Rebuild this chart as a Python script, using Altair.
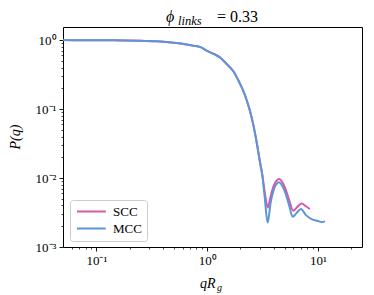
import altair as alt
import pandas as pd

# shared low-q part (qRg, P)
q_common = [0.05, 0.08, 0.12, 0.18, 0.25, 0.35, 0.45, 0.6, 0.75, 0.87, 1.0, 1.15, 1.31, 1.5,
            1.73, 1.95, 2.12, 2.3, 2.44, 2.6, 2.8, 3.0, 3.15]
p_common = [1.0, 0.998, 0.995, 0.989, 0.979, 0.960, 0.935, 0.887, 0.83, 0.79, 0.70, 0.63, 0.56, 0.45,
            0.35, 0.245, 0.183, 0.128, 0.093, 0.061, 0.033, 0.017, 0.011]

q_scc = [3.3, 3.52, 3.75, 4.0, 4.48, 5.0, 5.5, 5.99, 6.5, 7.13, 7.8, 8.47]
p_scc = [0.0065, 0.00375, 0.0055, 0.0078, 0.0097, 0.0075, 0.0048, 0.00335, 0.0038, 0.00428, 0.0039, 0.00355]

q_mcc = [3.3, 3.52, 3.75, 4.0, 4.45, 5.0, 5.5, 5.91, 6.4, 7.02, 7.8, 8.77, 10.0, 10.8, 11.6]
p_mcc = [0.0055, 0.00226, 0.0045, 0.0068, 0.00866, 0.0065, 0.0040, 0.00274, 0.0031, 0.00355, 0.0029,
         0.00254, 0.00238, 0.0023, 0.00235]

series = ["SCC", "MCC"]
colors = ["#d957a8", "#5a96d8"]

x_major = [0.1, 1, 10]
x_minor = [0.06, 0.07, 0.08, 0.09, 0.2, 0.3, 0.4, 0.5, 0.6, 0.7, 0.8, 0.9,
           2, 3, 4, 5, 6, 7, 8, 9, 20]
y_major = [0.001, 0.01, 0.1, 1]
y_minor = [0.002, 0.003, 0.004, 0.005, 0.006, 0.007, 0.008, 0.009,
           0.02, 0.03, 0.04, 0.05, 0.06, 0.07, 0.08, 0.09,
           0.2, 0.3, 0.4, 0.5, 0.6, 0.7, 0.8, 0.9]

rows = []
for name, qs, ps in [("SCC", q_common + q_scc, p_common + p_scc),
                     ("MCC", q_common + q_mcc, p_common + p_mcc)]:
    for q, p in zip(qs, ps):
        rows.append({"q": q, "P": p, "series": name})
df = pd.DataFrame(rows)

FONT = "Liberation Serif"

xs = alt.Scale(type="log", domain=[0.05, 25], nice=False)
ys = alt.Scale(type="log", domain=[0.001, 1.55], nice=False)
cs = alt.Scale(domain=series, range=colors)

x_lab = "datum.value == 0.1 ? '10⁻¹' : datum.value == 1 ? '10⁰' : '10¹'"
y_lab = ("datum.value == 0.001 ? '10⁻³' : datum.value == 0.01 ? '10⁻²' : "
         "datum.value == 0.1 ? '10⁻¹' : '10⁰'")

x_axis_major = alt.Axis(values=x_major, labelExpr=x_lab, orient="bottom", title=None, grid=False,
                        domain=False, tickSize=4, tickColor="black", tickWidth=0.9,
                        labelFont=FONT, labelFontSize=13, labelColor="black", labelPadding=3)
y_axis_major = alt.Axis(values=y_major, labelExpr=y_lab, orient="left", title=None, grid=False,
                        domain=False, tickSize=4, tickColor="black", tickWidth=0.9,
                        labelFont=FONT, labelFontSize=13, labelColor="black", labelPadding=3)
x_axis_minor = alt.Axis(values=x_minor, labels=False, orient="bottom", title=None, grid=False,
                        domain=False, tickSize=2, tickColor="black", tickWidth=0.7)
y_axis_minor = alt.Axis(values=y_minor, labels=False, orient="left", title=None, grid=False,
                        domain=False, tickSize=2, tickColor="black", tickWidth=0.7)

legend = alt.Legend(title=None, orient="none", legendX=7, legendY=173,
                    symbolType="M-1,0H5.4", symbolStrokeWidth=2, symbolSize=81,
                    labelFont=FONT, labelFontSize=13, labelColor="black",
                    fillColor="white", strokeColor="#cccccc", padding=5,
                    cornerRadius=3, rowPadding=3, labelOffset=25)

base = alt.Chart(df)

scc = base.transform_filter(alt.datum.series == "SCC").mark_line(
    strokeWidth=2, interpolate="monotone").encode(
    x=alt.X("q:Q", scale=xs, axis=x_axis_major),
    y=alt.Y("P:Q", scale=ys, axis=y_axis_major),
    color=alt.Color("series:N", scale=cs, legend=legend, sort=series),
)
mcc = base.transform_filter(alt.datum.series == "MCC").mark_line(
    strokeWidth=2, interpolate="monotone").encode(
    x=alt.X("q:Q", scale=xs, axis=None),
    y=alt.Y("P:Q", scale=ys, axis=None),
    color=alt.Color("series:N", scale=cs, legend=legend, sort=series),
)
minor = base.mark_point(opacity=0).encode(
    x=alt.X("q:Q", scale=xs, axis=x_axis_minor),
    y=alt.Y("P:Q", scale=ys, axis=y_axis_minor),
)

txt = alt.Chart(pd.DataFrame({"a": [0]}))
phi = txt.mark_text(text="ϕ", font=FONT, fontSize=16, fontStyle="italic", align="left",
                    baseline="alphabetic", color="black").encode(x=alt.value(103), y=alt.value(-5))
links = txt.mark_text(text="links", font=FONT, fontSize=12.5, fontStyle="italic", align="left",
                      baseline="alphabetic", color="black").encode(x=alt.value(115), y=alt.value(-2))
val = txt.mark_text(text="= 0.33", font=FONT, fontSize=16, align="left",
                    baseline="alphabetic", color="black").encode(x=alt.value(154), y=alt.value(-5))
xt = txt.mark_text(text="qR", font=FONT, fontSize=14, fontStyle="italic", align="left",
                   baseline="alphabetic", color="black").encode(x=alt.value(137), y=alt.value(261))
xg = txt.mark_text(text="g", font=FONT, fontSize=10, fontStyle="italic", align="left",
                   baseline="alphabetic", color="black").encode(x=alt.value(154), y=alt.value(264))
yt = txt.mark_text(text="P(q)", font=FONT, fontSize=14, fontStyle="italic", align="center",
                   baseline="middle", angle=270, color="black").encode(x=alt.value(-47), y=alt.value(110))

chart = alt.layer(scc, mcc, minor, phi, links, val, xt, xg, yt).resolve_axis(
    x="independent", y="independent"
).properties(
    width=299, height=220, autosize=alt.AutoSizeParams(type="none"),
    padding={"left": 55, "top": 19, "right": 4, "bottom": 48},
).configure_view(stroke="black", strokeWidth=1)

chart.save("out.html", embed_options={"renderer": "svg", "actions": False})
